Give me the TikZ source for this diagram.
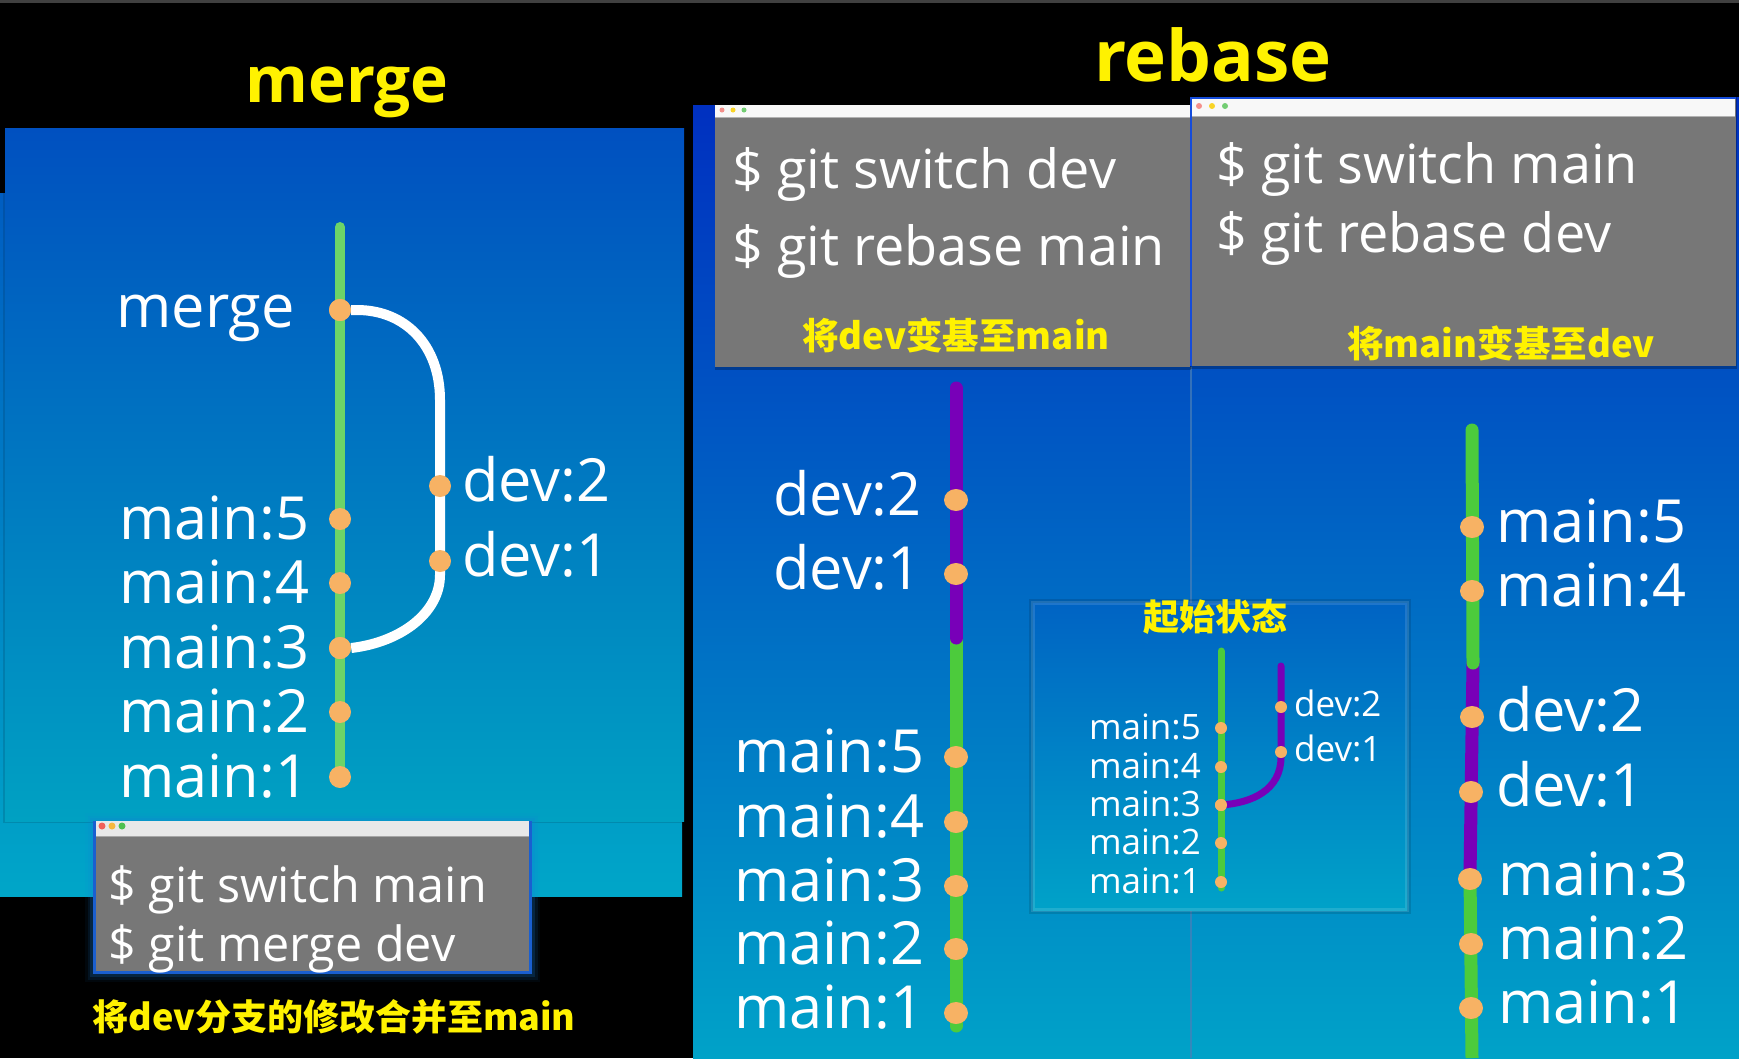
\documentclass[tikz,border=0pt]{standalone}
\usepackage{fontspec}
\setmainfont{Open Sans}
\newfontfamily\cjk{Noto Sans CJK SC}
\usetikzlibrary{shapes.geometric}
\definecolor{lbgtop}{HTML}{0050C0}
\definecolor{lbgbot}{HTML}{00A6C8}
\definecolor{rbgtop}{HTML}{0030C0}
\definecolor{rbgbot}{HTML}{00A2C8}
\definecolor{gitgreen}{HTML}{4CCB3C}
\definecolor{lightgreen}{HTML}{6CD468}
\definecolor{gitpurple}{HTML}{7800B8}
\definecolor{dotorange}{HTML}{F7B264}
\definecolor{termgray}{HTML}{777777}
\definecolor{capyellow}{HTML}{FFF200}
\definecolor{barlight}{HTML}{E8E8E8}
\definecolor{barwhite}{HTML}{F8F8F8}
\definecolor{termblue}{HTML}{1A5FD0}
\definecolor{tlred}{HTML}{F0605A}
\definecolor{tlyellow}{HTML}{F5B840}
\definecolor{tlgreen}{HTML}{50C050}
\definecolor{divcol}{HTML}{4A7FB8}
\begin{document}
\begin{tikzpicture}[x=1pt,y=-1pt,
  commit/.style={ellipse, fill=dotorange, inner sep=0pt, minimum width=24pt, minimum height=22pt},
  smallcommit/.style={circle, fill=dotorange, inner sep=0pt, minimum size=12pt},
  biglbl/.style={text=white, font=\fontsize{59.5}{62}\selectfont, inner sep=0pt},
  smalllbl/.style={text=white, font=\fontsize{35}{40}\selectfont, inner sep=0pt},
  cmdmerge/.style={text=white, font=\fontsize{48.5}{52}\selectfont, inner sep=0pt, anchor=base west},
  cmdrebase/.style={text=white, font=\fontsize{54}{58}\selectfont, inner sep=0pt, anchor=base west},
  captext/.style={text=capyellow, font=\cjk\bfseries\fontsize{36.5}{40}\selectfont, inner sep=0pt, anchor=base},
  titletext/.style={text=capyellow, font=\bfseries\fontsize{#1}{#1}\selectfont, inner sep=0pt, anchor=base},
  branchline/.style={line width=#1, line cap=round},
  tlight/.style={circle, inner sep=0pt, minimum size=#1},
  divider/.style={draw=divcol, line width=2pt, opacity=.7}
]
\useasboundingbox (0,0) rectangle (1739,1058);
\fill[black] (0,0) rectangle (1739,1058);
\fill[black!75] (0,0) rectangle (1739,3);

% ================= MERGE SIDE =================
\shade[top color=lbgtop!85!lbgbot, bottom color=lbgbot] (0,193) rectangle (682,896);
\fill[black, opacity=.12] (3,127) rectangle (686,823);
\shade[top color=lbgtop, bottom color=lbgbot!97!black] (5,128) rectangle (684,821);

\node[titletext=64] (tmerge) at (347,102) {merge};

% main line
\coordinate (mTop) at (340,227);
\coordinate (mBot) at (340,782);
\draw[branchline=10pt, lightgreen] (mTop) -- (mBot);

\node[commit, minimum width=22pt] (mM) at (340,310) {};
\node[commit, minimum width=22pt] (m5) at (340,519) {};
\node[commit, minimum width=22pt] (m4) at (340,583) {};
\node[commit, minimum width=22pt] (m3) at (340,648) {};
\node[commit, minimum width=22pt] (m2) at (340,712) {};
\node[commit, minimum width=22pt] (m1) at (340,777) {};
\coordinate (md2) at (440,486);
\coordinate (md1) at (440,561);

% merge curve (white)
\draw[line width=10pt, white]
  (mM.east) -- (357,310) .. controls (405,310) and (440,345) .. (440,400)
  -- (md2) -- (md1) -- (440,575) .. controls (440,612) and (402,642) .. (m3.east);
\node[commit, minimum width=22pt] (md2n) at (md2) {};
\node[commit, minimum width=22pt] (md1n) at (md1) {};
\fill[dotorange] (mM) ellipse (11pt and 11pt);
\fill[dotorange] (m3) ellipse (11pt and 11pt);

\node[biglbl, anchor=base east] (lmM) at (295,327) {merge};
\node[biglbl, anchor=base west] (lm5) at (119,539) {main:5};
\node[biglbl, anchor=base west] (lm4) at (119,603) {main:4};
\node[biglbl, anchor=base west] (lm3) at (119,668) {main:3};
\node[biglbl, anchor=base west] (lm2) at (119,732) {main:2};
\node[biglbl, anchor=base west] (lm1) at (119,797) {main:1};
\node[biglbl, anchor=base west] (lmd2) at (462,501) {dev:2};
\node[biglbl, anchor=base west] (lmd1) at (462,576) {dev:1};

% merge terminal
\foreach \w/\o in {16/0.06, 11/0.1, 6/0.18}{
  \draw[line width=\w pt, termblue!80!cyan, opacity=\o] (93,821) rectangle (532,974);
}
\fill[termblue] (93,821) rectangle (532,974);
\fill[termgray] (96,821) rectangle (529,971);
\fill[barlight] (96,821) rectangle (529,836);
\draw[black!35, line width=1.5pt] (96,836.5) -- (529,836.5);
\node[tlight=7pt, fill=tlred] (mtl1) at (102,826) {};
\node[tlight=7pt, fill=tlyellow] (mtl2) at (112,826) {};
\node[tlight=7pt, fill=tlgreen] (mtl3) at (122,826) {};
\node[cmdmerge] (mc1) at (108,902) {\$ git switch main};
\node[cmdmerge] (mc2) at (108,961) {\$ git merge dev};

\node[captext, font=\cjk\bfseries\fontsize{36}{40}\selectfont] (mcap) at (334,1030) {将dev分支的修改合并至main};

% ================= REBASE SIDE =================
\fill[black, opacity=.3] (689,101) rectangle (1739,1058);
\shade[top color=rbgtop, bottom color=rbgbot] (693,105) rectangle (1191,1058);
\shade[top color=rbgtop, bottom color=rbgbot] (1191,97) rectangle (1739,1058);
\draw[divider] (1191,367) -- (1191,1058);

\node[titletext=71] (trebase) at (1213,81) {rebase};

% left terminal
\fill[black, opacity=.25] (715,105) rectangle (1191,370);
\fill[termgray] (715,105) rectangle (1190,367);
\fill[barwhite] (715,105) rectangle (1190,117);
\draw[black!30, line width=1.5pt] (715,117.5) -- (1190,117.5);
\node[tlight=5pt, fill=tlred!70] (ltl1) at (722,110) {};
\node[tlight=5pt, fill=tlyellow!60!yellow] (ltl2) at (733,110) {};
\node[tlight=5pt, fill=tlgreen!80] (ltl3) at (744,110) {};
\node[cmdrebase] (lc1) at (732,188) {\$ git switch dev};
\node[cmdrebase] (lc2) at (732,265) {\$ git rebase main};
\node[captext] (lcap) at (956,349) {将dev变基至main};

% right terminal
\fill[black, opacity=.25] (1190,97) rectangle (1737,369);
\fill[termblue!80!blue] (1190,97) rectangle (1736,366);
\fill[termgray] (1192,99) rectangle (1736,366);
\fill[barwhite] (1192,99) rectangle (1735,116);
\draw[black!30, line width=1.5pt] (1192,116.5) -- (1735,116.5);
\node[tlight=6pt, fill=tlred!70] (rtl1) at (1199,106) {};
\node[tlight=6pt, fill=tlyellow!60!yellow] (rtl2) at (1212,106) {};
\node[tlight=6pt, fill=tlgreen!80] (rtl3) at (1225,106) {};
\node[cmdrebase] (rc1) at (1216,183) {\$ git switch main};
\node[cmdrebase] (rc2) at (1216,252) {\$ git rebase dev};
\node[captext] (rcap) at (1501,357) {将main变基至dev};

% ---- left rebase graph (dev rebased onto main)
\coordinate (aTop) at (956,388);
\coordinate (aMid) at (956,638);
\coordinate (aBot) at (956,1026);
\draw[branchline=13pt, gitgreen] (aMid) -- (aBot);
\draw[branchline=13pt, gitpurple] (aTop) -- (aMid);
\node[commit] (ad2) at (956,500) {};
\node[commit] (ad1) at (956,574) {};
\node[commit] (a5) at (956,757) {};
\node[commit] (a4) at (956,822) {};
\node[commit] (a3) at (956,886) {};
\node[commit] (a2) at (956,949) {};
\node[commit] (a1) at (956,1013) {};
\node[biglbl, anchor=base east] (lad2) at (922,515) {dev:2};
\node[biglbl, anchor=base east] (lad1) at (922,589) {dev:1};
\node[biglbl, anchor=base west] (la5) at (734,772) {main:5};
\node[biglbl, anchor=base west] (la4) at (734,837) {main:4};
\node[biglbl, anchor=base west] (la3) at (734,901) {main:3};
\node[biglbl, anchor=base west] (la2) at (734,964) {main:2};
\node[biglbl, anchor=base west] (la1) at (734,1028) {main:1};

% ---- inset: initial state
\fill[black, opacity=.12] (1029,599) rectangle (1411,914);
\shade[top color=rbgtop!55!rbgbot, bottom color=rbgbot] (1033,603) rectangle (1407,910);
\draw[white, opacity=.12, line width=4pt] (1033,603) rectangle (1407,910);
\node[captext, font=\cjk\bfseries\fontsize{36}{40}\selectfont] (tinit) at (1215,630) {起始状态};
\coordinate (iTop) at (1221,651);
\coordinate (iBot) at (1221,888);
\coordinate (iDevTop) at (1281,666);
\draw[branchline=7pt, gitgreen] (iTop) -- (iBot);
\node[smallcommit] (i5) at (1221,728) {};
\node[smallcommit] (i4) at (1221,767) {};
\node[smallcommit] (i3) at (1221,805) {};
\node[smallcommit] (i2) at (1221,843) {};
\node[smallcommit] (i1) at (1221,882) {};
\draw[branchline=7pt, gitpurple] (iDevTop) -- (1281,757) .. controls (1281,790) and (1252,803) .. (i3.center);
\fill[dotorange] (i3) circle (6pt);
\node[smallcommit] (id2) at (1281,707) {};
\node[smallcommit] (id1) at (1281,752) {};
\node[smalllbl, anchor=base east] (li5) at (1201,739) {main:5};
\node[smalllbl, anchor=base east] (li4) at (1201,778) {main:4};
\node[smalllbl, anchor=base east] (li3) at (1201,816) {main:3};
\node[smalllbl, anchor=base east] (li2) at (1201,854) {main:2};
\node[smalllbl, anchor=base east] (li1) at (1201,893) {main:1};
\node[smalllbl, anchor=base west] (lid2) at (1294,716) {dev:2};
\node[smalllbl, anchor=base west] (lid1) at (1294,761) {dev:1};

% ---- right rebase graph (main rebased onto dev)
\coordinate (bTop) at (1472,430);
\coordinate (bM1) at (1473,663);
\coordinate (bM2) at (1470,876);
\coordinate (bBot) at (1472,1058);
\draw[branchline=13pt, gitpurple] (bM1) -- (bM2);
\draw[branchline=13pt, gitgreen] (bTop) -- (bM1);
\draw[line width=13pt, gitgreen] (bM2) -- (bBot);
\node[commit] (b5) at (1472,527) {};
\node[commit] (b4) at (1472,591) {};
\node[commit] (bd2) at (1472,717) {};
\node[commit] (bd1) at (1471,792) {};
\node[commit] (b3) at (1470,879) {};
\node[commit] (b2) at (1471,944) {};
\node[commit] (b1) at (1471,1008) {};
\node[biglbl, anchor=base west] (lb5) at (1496,542) {main:5};
\node[biglbl, anchor=base west] (lb4) at (1496,606) {main:4};
\node[biglbl, anchor=base west] (lbd2) at (1496,731) {dev:2};
\node[biglbl, anchor=base west] (lbd1) at (1496,806) {dev:1};
\node[biglbl, anchor=base west] (lb3) at (1498,895) {main:3};
\node[biglbl, anchor=base west] (lb2) at (1498,959) {main:2};
\node[biglbl, anchor=base west] (lb1) at (1498,1023) {main:1};
\end{tikzpicture}
\end{document}
